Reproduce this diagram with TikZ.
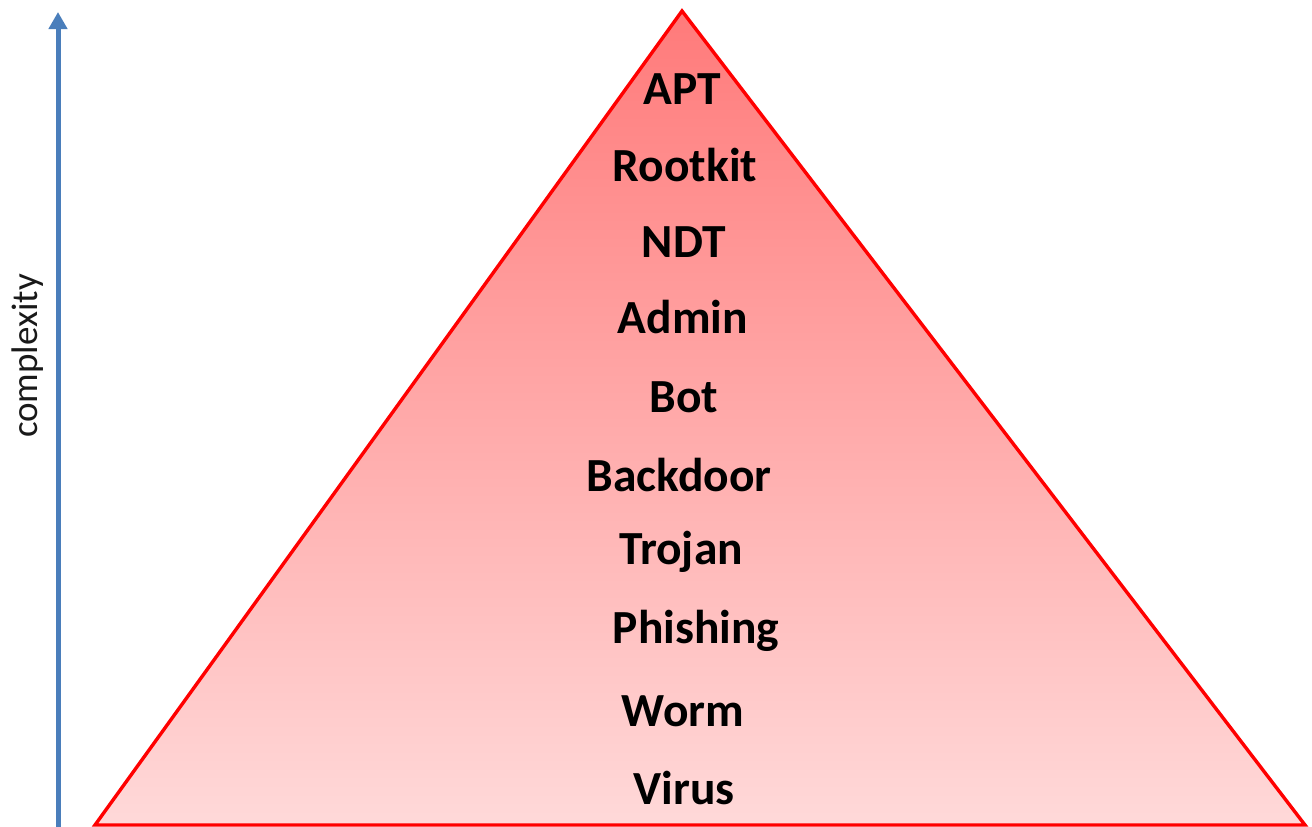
\documentclass[tikz,border=0pt]{standalone}
\usepackage{fontspec}
\setmainfont{Carlito}
\usetikzlibrary{arrows.meta}
\definecolor{topred}{RGB}{255,122,122}
\definecolor{botred}{RGB}{255,217,217}
\definecolor{arrowblue}{RGB}{74,126,187}
\definecolor{edgered}{RGB}{255,0,0}
\begin{document}
\begin{tikzpicture}[x=1pt,y=-1pt,
  lbl/.style={font=\fontsize{47.5}{52}\selectfont\bfseries, anchor=base, inner sep=0pt, text=black},
  axislabel/.style={rotate=90, font=\fontsize{37}{40}\selectfont, text=black!90, inner sep=0pt}]
\useasboundingbox (0,0) rectangle (1312,827);
\coordinate (apex) at (682,11);
\coordinate (bl) at (95,825);
\coordinate (br) at (1305,825);
\shade[top color=topred,bottom color=botred] (apex)--(bl)--(br)--cycle;
\draw[edgered,line width=3.4pt,line join=miter] (apex)--(bl)--(br)--cycle;
\coordinate (abot) at (58,830);
\coordinate (atop) at (58,12);
\draw[arrowblue,line width=5pt,-{Triangle[width=18pt,length=17pt]}] (abot) -- (atop);
\node[axislabel] (cx) at (28,356) {complexity};
\node[lbl] (apt) at (682,104) {APT};
\node[lbl] (rootkit) at (685,181) {Rootkit};
\node[lbl] (ndt) at (684,257) {NDT};
\node[lbl] (admin) at (683,333) {Admin};
\node[lbl] (bot) at (684,412) {Bot};
\node[lbl] (backdoor) at (679,491) {Backdoor};
\node[lbl] (trojan) at (681,564) {Trojan};
\node[lbl] (phishing) at (696,643) {Phishing};
\node[lbl] (worm) at (683,726) {Worm};
\node[lbl] (virus) at (684,804) {Virus};
\end{tikzpicture}
\end{document}
